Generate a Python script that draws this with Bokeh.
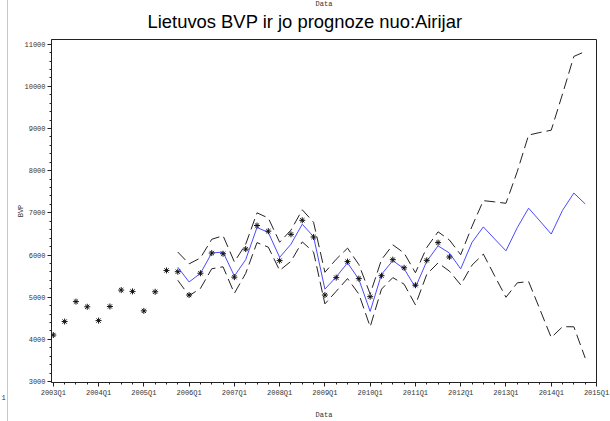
from bokeh.plotting import figure
from bokeh.models import Range1d, FixedTicker, SingleIntervalTicker, Title
from bokeh.embed import file_html
from bokeh.resources import INLINE

# ---------------- data ----------------
quarters = [f"{y}Q{k}" for y in range(2003, 2015) for k in (1, 2, 3, 4)]
tick_labels = ["2003Q1", "2004Q1", "2005Q1", "2006Q1", "2007Q1", "2008Q1", "2009Q1",
               "2010Q1", "2011Q1", "2012Q1", "2013Q1", "2014Q1", "2015Q1"]

# actual GDP (2003Q1 .. 2011Q4)
actual = [4103, 4422, 4895, 4772, 4445, 4779, 5168, 5137, 4675, 5128, 5634, 5604,
          5051, 5568, 6047, 6030, 5475, 6140, 6699, 6566, 5867, 6490, 6823, 6427,
          5051, 5464, 5844, 5440, 5012, 5510, 5890, 5697, 5284, 5874, 6294, 5953]

# forecast and bounds (2005Q4 .. 2014Q4)
fc_start = "2005Q4"
forecast = [5711, 5361, 5564, 6047, 6070, 5501, 5890, 6653, 6536, 5944, 6256, 6730,
            6434, 5191, 5480, 5814, 5424, 4662, 5541, 5867, 5674, 5231, 5851, 6217,
            6047, 5672, 6300, 6667, 6380, 6100, 6650, 7110, 6807, 6497, 7060, 7469, 7212]
upper = [6070, 5790, 5930, 6373, 6457, 5837, 6256, 7000, 6876, 6303, 6590, 7072,
         6775, 5590, 5900, 6163, 5774, 5075, 5890, 6240, 6047, 5580, 6178, 6550,
         6357, 6007, 6680, 7289, 7260, 7226, 7980, 8844, 8905, 8960, 9820, 10709, 10825]
lower = [5401, 5035, 5207, 5674, 5720, 5091, 5564, 6294, 6186, 5634, 5851, 6310,
         6070, 4841, 5140, 5441, 5075, 4298, 5191, 5464, 5308, 4818, 5541, 5814,
         5618, 5292, 5760, 6023, 5505, 4998, 5340, 5371, 4709, 4042, 4300, 4298, 3559]

title_text = "Lietuvos BVP ir jo prognoze nuo:Airijar"
x_title = "Data"
y_title = "BVP"
page_no = "1"

# ---------------- positions ----------------
x_act = list(range(len(actual)))
i0 = quarters.index(fc_start)
x_fc = [i0 + i for i in range(len(forecast))]
tick_pos = [4 * i for i in range(len(tick_labels))]

p = figure(width=610, height=421, output_backend="svg", toolbar_location=None,
           x_range=Range1d(-0.16, 48.0), y_range=Range1d(2977, 11110),
           min_border_left=51, min_border_right=14, min_border_top=36, min_border_bottom=36,
           title=None)
p.border_fill_color = None
p.styles = {"background": "linear-gradient(90deg, #ffffff 7px, #b4cbe6 7px, #b4cbe6 8px, #ffffff 8px)"}
p.stylesheets = [":host { position: relative; } "
                 ":host::after { content: ''; position: absolute; left: 7px; top: 0px; "
                 "width: 1px; height: 100%; background: #b4cbe6; pointer-events: none; }"]
p.grid.grid_line_color = None
p.outline_line_color = "#222222"
p.outline_line_width = 1
p.background_fill_color = "white"

tick_font = "Liberation Mono"
for ax in (p.xaxis[0], p.yaxis[0]):
    ax.axis_line_color = "#222222"
    ax.major_tick_line_color = "#222222"
    ax.minor_tick_line_color = "#222222"
    ax.major_tick_in = 0
    ax.major_tick_out = 4
    ax.minor_tick_in = 0
    ax.minor_tick_out = 2
    ax.major_label_text_font = tick_font
    ax.major_label_text_font_size = "7px"
    ax.major_label_text_color = "#333333"
    ax.major_label_standoff = 2
    ax.axis_label_text_font = tick_font
    ax.axis_label_text_font_size = "7px"
    ax.axis_label_text_font_style = "normal"
    ax.axis_label_text_color = "#333333"

p.xaxis[0].ticker = FixedTicker(ticks=tick_pos, minor_ticks=list(range(0, 49)))
p.xaxis[0].major_label_overrides = {pos: lab for pos, lab in zip(tick_pos, tick_labels)}
p.xaxis[0].axis_label = x_title
p.xaxis[0].axis_label_standoff = 11
p.yaxis[0].ticker = SingleIntervalTicker(interval=1000, num_minor_ticks=5)
p.yaxis[0].formatter.use_scientific = False
p.yaxis[0].axis_label = y_title
p.yaxis[0].axis_label_standoff = -4

# main title above the frame
p.add_layout(Title(text=title_text, align="left", offset=96, text_font="Liberation Sans",
                   text_font_size="18.4px", text_font_style="normal", text_color="black",
                   standoff=16), "above")
# page number at the lower left, on the row of the date labels
p.add_layout(Title(text=page_no, align="left", text_font=tick_font, offset=-50,
                   text_font_size="7px", text_font_style="normal", text_color="#333333",
                   vertical_align="top", text_baseline="top",
                   standoff=-54), "below")
# page header "Data" at the very top of the page
p.add_layout(Title(text=x_title, align="center", text_font=tick_font,
                   text_font_size="7px", text_font_style="normal", text_color="#333333",
                   vertical_align="top", text_baseline="top",
                   standoff=-843), "below")

dash = "11 5"
p.line(x_fc, upper, line_color="#222222", line_width=1, line_dash=dash)
p.line(x_fc, lower, line_color="#222222", line_width=1, line_dash=dash)
p.line(x_fc, forecast, line_color="#4a4aff", line_width=1)
p.scatter(x_act, actual, marker="asterisk", size=6, line_color="#111111", line_width=1)

open("out.html", "w").write(file_html(p, INLINE))
